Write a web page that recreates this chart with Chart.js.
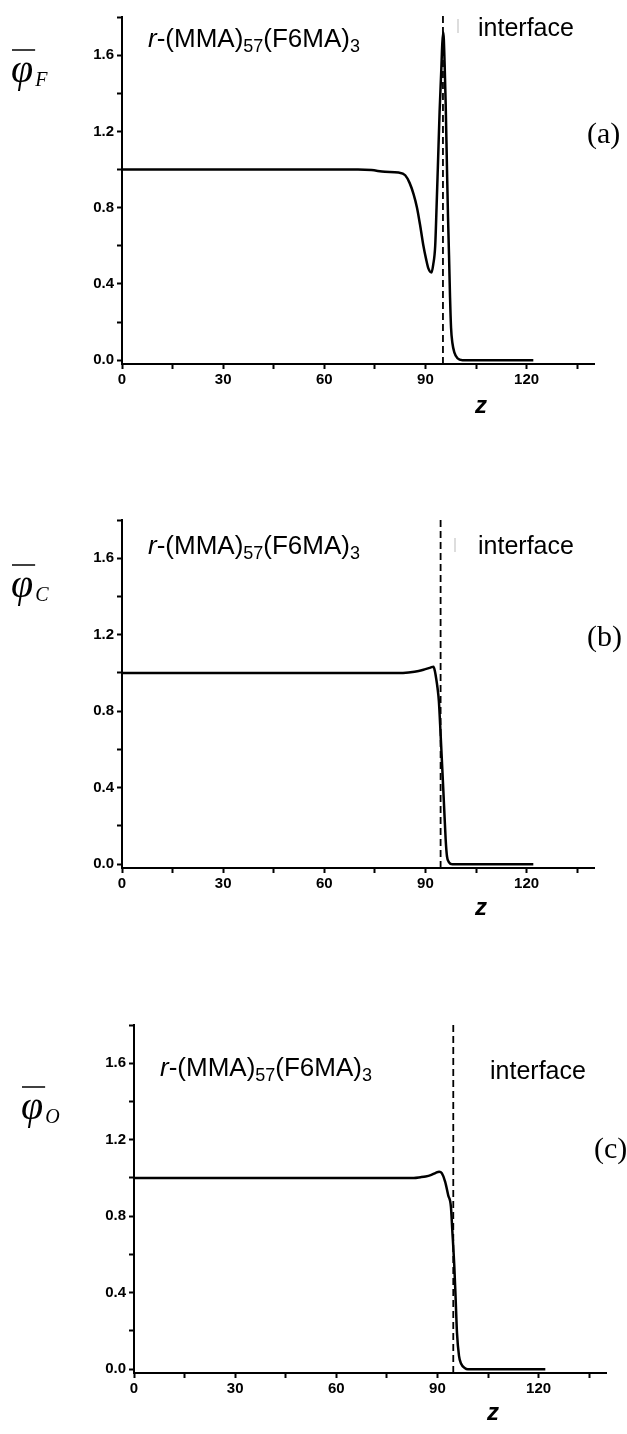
<!DOCTYPE html>
<html>
<head>
<meta charset="utf-8">
<script src="https://cdn.jsdelivr.net/npm/chart.js@4.4.1/dist/chart.umd.min.js"></script>
<style>
	html, body { margin: 0; padding: 0; background: #fff; }
	body { width: 627px; height: 1434px; position: relative; overflow: hidden; }
	canvas { position: absolute; left: 0; }
</style>
</head>
<body>
<canvas id="chartA" width="627" height="503" style="top:0px"></canvas>
<canvas id="chartB" width="627" height="505" style="top:503px"></canvas>
<canvas id="chartC" width="627" height="426" style="top:1008px"></canvas>
<script>
// profile data: z position and normalised volume fraction
const Z_A   = [0, 70, 74, 78, 82, 84, 85.3, 86.5, 87.5, 88.5, 89.4, 90.2, 90.9, 91.8, 92.3, 92.9, 93.3, 93.7, 94.2, 94.7, 95.0, 95.3, 95.7, 96.0, 96.4, 96.7, 97.0, 97.3, 97.6, 98.0, 98.6, 99.5, 101, 122];
const PHI_F = [1.0, 1.0, 0.997, 0.988, 0.984, 0.97, 0.93, 0.87, 0.80, 0.70, 0.60, 0.53, 0.48, 0.46, 0.50, 0.60, 0.80, 1.02, 1.30, 1.52, 1.66, 1.72, 1.55, 1.35, 1.0, 0.75, 0.55, 0.33, 0.17, 0.09, 0.04, 0.01, 0.0, 0.0];

const Z_B   = [0, 82, 85, 88, 90, 91.5, 92.4, 92.8, 93.2, 93.6, 94.0, 94.5, 95.0, 95.5, 96.0, 96.4, 97.0, 98.0, 122];
const PHI_C = [1.0, 1.0, 1.003, 1.01, 1.02, 1.028, 1.033, 1.01, 0.97, 0.92, 0.85, 0.68, 0.50, 0.315, 0.13, 0.04, 0.01, 0.0, 0.0];

const Z_C   = [0, 83, 85, 86.5, 88, 89.5, 90.5, 91.3, 92.3, 93.2, 94.0, 94.4, 95.0, 95.4, 95.8, 96.4, 97.0, 98.2, 99, 122];
const PHI_O = [1.0, 1.0, 1.004, 1.008, 1.015, 1.027, 1.033, 1.025, 0.98, 0.91, 0.85, 0.73, 0.54, 0.37, 0.19, 0.07, 0.03, 0.005, 0.0, 0.0];

// position of the interface (dashed line) in each panel
const INTERFACE_Z = [95.2, 94.5, 94.7];
const INTERFACE_SPAN = [-0.02, 1.82];

// axis ticks
const X_TICKS = [0, 15, 30, 45, 60, 75, 90, 105, 120, 135];
const Y_TICKS = [0, 0.2, 0.4, 0.6, 0.8, 1.0, 1.2, 1.4, 1.6, 1.8];

// texts
const SERIES_NAME = ['F', 'C', 'O'];
const PANEL_TAGS = ['(a)', '(b)', '(c)'];
const SAMPLE_LABEL = [['r', 'italic'], ['-(MMA)', ''], ['57', 'sub'], ['(F6MA)', ''], ['3', 'sub']];
const INTERFACE_LABEL = 'interface';
const X_TITLE = 'z';

const SANS = '"Liberation Sans", Arial, sans-serif';
const SERIF = '"Liberation Serif", "Times New Roman", serif';

// layout of the three panels (pixels, canvas-relative)
const panels = [
	{ canvas: 'chartA', z: Z_A, phi: PHI_F, axisLeft: 122, axisRight: 594, plotTop: 17, plotBottom: 364,
	  phiX: 11, phiY: 82, tagX: 587, tagY: 143, textX: 148, textY: 47, ifaceX: 478, ifaceY: 36, mark: [458, 19, 33], zX: 481, zY: 405 },
	{ canvas: 'chartB', z: Z_B, phi: PHI_C, axisLeft: 122, axisRight: 594, plotTop: 17, plotBottom: 365,
	  phiX: 11, phiY: 94, tagX: 587, tagY: 143, textX: 148, textY: 51, ifaceX: 478, ifaceY: 51, mark: [455, 35, 49], zX: 481, zY: 404 },
	{ canvas: 'chartC', z: Z_C, phi: PHI_O, axisLeft: 134, axisRight: 606, plotTop: 17, plotBottom: 365,
	  phiX: 21, phiY: 111, tagX: 594, tagY: 150, textX: 160, textY: 68, ifaceX: 490, ifaceY: 71, mark: null, zX: 493, zY: 404 }
];

// draws the labels that live around the plot
const annotations = {
	id: 'annotations',
	afterDraw(chart, args, opts) {
		const p = opts.panel;
		const ctx = chart.ctx;
		ctx.save();
		ctx.fillStyle = '#000';
		ctx.strokeStyle = '#000';
		ctx.textBaseline = 'alphabetic';
		ctx.textAlign = 'left';

		// y title: overlined phi with subscript
		ctx.font = 'italic 40px ' + SERIF;
		ctx.fillText('\u03C6', p.phiX, p.phiY);
		const w = ctx.measureText('\u03C6').width;
		ctx.lineWidth = 1.5;
		ctx.beginPath();
		ctx.moveTo(p.phiX + 1, p.phiY - 32);
		ctx.lineTo(p.phiX + w + 2, p.phiY - 32);
		ctx.stroke();
		ctx.font = 'italic 20px ' + SERIF;
		ctx.fillText(SERIES_NAME[opts.index], p.phiX + w + 2, p.phiY + 4);

		// panel tag
		ctx.font = '30px ' + SERIF;
		ctx.fillText(PANEL_TAGS[opts.index], p.tagX, p.tagY);

		// sample name with subscripts
		let x = p.textX;
		SAMPLE_LABEL.forEach(([txt, style]) => {
			if (style == 'sub') {
				ctx.font = '18px ' + SANS;
				ctx.fillText(txt, x, p.textY + 5);
			} else {
				ctx.font = (style == 'italic' ? 'italic ' : '') + '26px ' + SANS;
				ctx.fillText(txt, x, p.textY);
			}
			x += ctx.measureText(txt).width;
		});

		// interface label
		ctx.font = '25px ' + SANS;
		ctx.fillText(INTERFACE_LABEL, p.ifaceX, p.ifaceY);
		if (p.mark) {
			ctx.strokeStyle = '#bbb';
			ctx.lineWidth = 1;
			ctx.beginPath();
			ctx.moveTo(p.mark[0], p.mark[1]);
			ctx.lineTo(p.mark[0], p.mark[2]);
			ctx.stroke();
		}

		// x title
		ctx.font = 'italic bold 24px ' + SANS;
		ctx.textAlign = 'center';
		ctx.fillText(X_TITLE, p.zX, p.zY + 8);
		ctx.restore();
	}
};

function axisGrid() {
	return {
		display: true,
		drawOnChartArea: false,
		drawTicks: true,
		tickLength: 5,
		tickWidth: 2,
		tickColor: '#000'
	};
}

panels.forEach((p, i) => {
	const canvas = document.getElementById(p.canvas);
	const curve = p.z.map((z, k) => ({ x: z, y: p.phi[k] }));
	const iface = INTERFACE_SPAN.map((v) => ({ x: INTERFACE_Z[i], y: v }));
	new Chart(canvas, {
		type: 'line',
		data: {
			datasets: [
				{
					data: curve,
					borderColor: '#000',
					borderWidth: 2.5,
					pointRadius: 0,
					fill: false,
					cubicInterpolationMode: 'monotone'
				},
				{
					data: iface,
					borderColor: '#000',
					borderWidth: 1.8,
					borderDash: [7, 4],
					pointRadius: 0,
					fill: false,
					clip: false
				}
			]
		},
		options: {
			responsive: false,
			animation: false,
			devicePixelRatio: 1,
			layout: {
				padding: { left: 0, top: p.plotTop, right: 627 - p.axisRight, bottom: 0 }
			},
			scales: {
				x: {
					type: 'linear',
					min: 0,
					max: 140,
					afterBuildTicks: (scale) => { scale.ticks = X_TICKS.map((v) => ({ value: v })); },
					afterFit: (scale) => { scale.height = canvas.height - p.plotBottom; },
					grid: axisGrid(),
					border: { display: true, color: '#000', width: 2 },
					ticks: {
						autoSkip: false,
						maxRotation: 0,
						padding: 2,
						color: '#000',
						font: { family: SANS, weight: 'bold', size: 15 },
						callback: (v) => (v % 30 === 0 ? String(v) : '')
					}
				},
				y: {
					type: 'linear',
					min: -0.02,
					max: 1.8,
					afterBuildTicks: (scale) => { scale.ticks = Y_TICKS.map((v) => ({ value: v })); },
					afterFit: (scale) => { scale.width = p.axisLeft; },
					grid: axisGrid(),
					border: { display: true, color: '#000', width: 2 },
					ticks: {
						padding: 3,
						color: '#000',
						font: { family: SANS, weight: 'bold', size: 15 },
						callback: (v) => (Math.round(v * 10) % 4 === 0 ? v.toFixed(1) : '')
					}
				}
			},
			plugins: {
				legend: { display: false },
				tooltip: { enabled: false },
				title: { display: false },
				annotations: { panel: p, index: i }
			}
		},
		plugins: [annotations]
	});
});
</script>
</body>
</html>
